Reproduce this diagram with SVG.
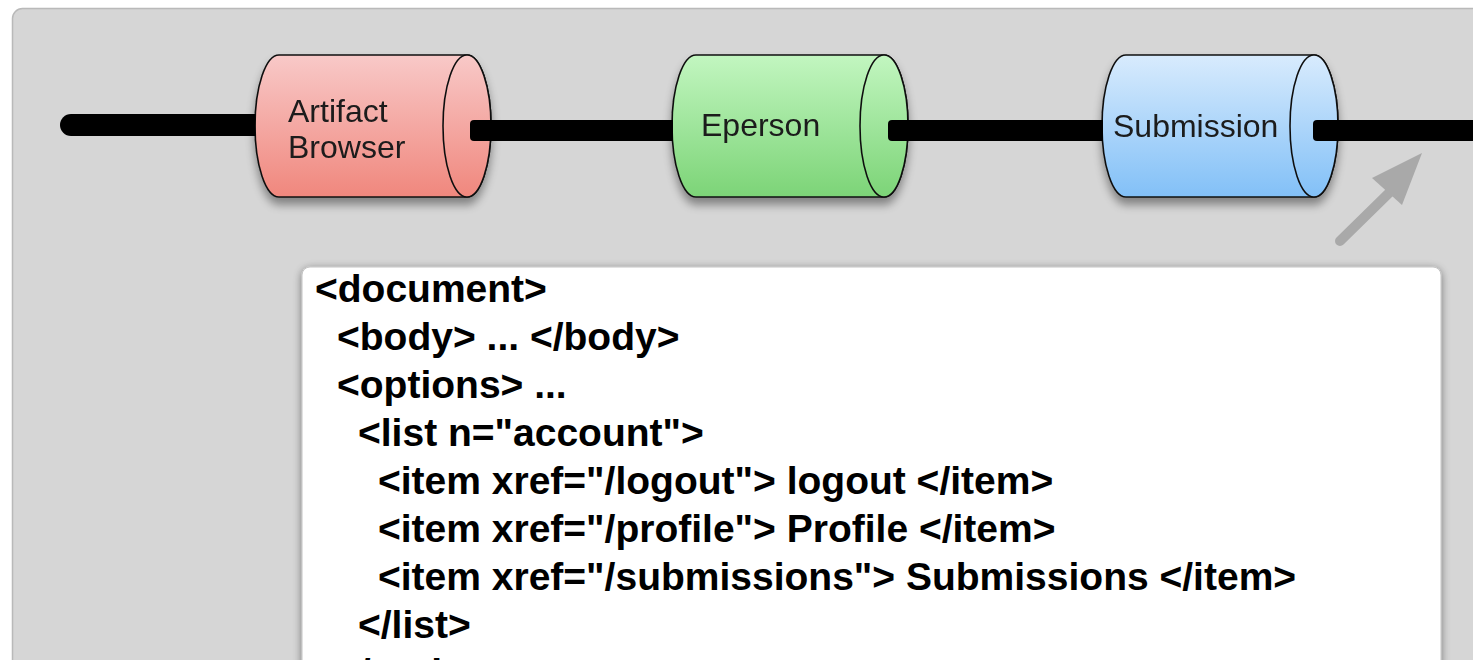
<svg xmlns="http://www.w3.org/2000/svg" width="1473" height="660" viewBox="0 0 1473 660">
  <defs>
    <style>
      .cyl-body { stroke: #111; stroke-width: 1.6; }
      .cyl-label { font-family: "Liberation Sans", Arial, sans-serif; font-size: 32px; fill: #1a1a1a; }
      .code { font-family: "Liberation Sans", Arial, sans-serif; font-size: 39px; font-weight: bold; fill: #000; }
      .wire { fill: #000; }
    </style>
    <linearGradient id="gRed" x1="0" y1="0" x2="0" y2="1">
      <stop offset="0" stop-color="#f8c9c8"/>
      <stop offset="1" stop-color="#f0877d"/>
    </linearGradient>
    <linearGradient id="gGreen" x1="0" y1="0" x2="0" y2="1">
      <stop offset="0" stop-color="#c2f6c0"/>
      <stop offset="1" stop-color="#7cd477"/>
    </linearGradient>
    <linearGradient id="gBlue" x1="0" y1="0" x2="0" y2="1">
      <stop offset="0" stop-color="#d8ebfd"/>
      <stop offset="1" stop-color="#82c0f7"/>
    </linearGradient>
    <filter id="shadow" x="-10%" y="-20%" width="120%" height="150%">
      <feGaussianBlur in="SourceAlpha" stdDeviation="5"/>
      <feOffset dx="0" dy="7" result="b"/>
      <feComponentTransfer><feFuncA type="linear" slope="0.4"/></feComponentTransfer>
      <feMerge><feMergeNode/><feMergeNode in="SourceGraphic"/></feMerge>
    </filter>
    <filter id="boxShadow" x="-5%" y="-10%" width="110%" height="130%">
      <feGaussianBlur in="SourceAlpha" stdDeviation="4"/>
      <feOffset dx="0" dy="2" result="b"/>
      <feComponentTransfer><feFuncA type="linear" slope="0.45"/></feComponentTransfer>
      <feMerge><feMergeNode/><feMergeNode in="SourceGraphic"/></feMerge>
    </filter>
  </defs>

  <rect x="0" y="0" width="1473" height="660" fill="#ffffff"/>
  <rect id="panel" x="12.5" y="8.5" width="1500" height="700" rx="10" fill="#d6d6d6" stroke="#b9b9b9" stroke-width="1.5"/>

  <g id="node-artifact-browser" filter="url(#shadow)">
    <path class="cyl-body" fill="url(#gRed)" d="M279,55 L467,55 A24,71 0 0 1 467,197 L279,197 A24,71 0 0 1 279,55 Z"/>
    <ellipse class="cyl-body" fill="url(#gRed)" cx="467" cy="126" rx="24" ry="71"/>
    <text class="cyl-label" x="288" y="122">Artifact</text>
    <text class="cyl-label" x="288" y="158">Browser</text>
  </g>

  <g id="node-eperson" filter="url(#shadow)">
    <path class="cyl-body" fill="url(#gGreen)" d="M696,55 L884,55 A24,71 0 0 1 884,197 L696,197 A24,71 0 0 1 696,55 Z"/>
    <ellipse class="cyl-body" fill="url(#gGreen)" cx="884" cy="126" rx="24" ry="71"/>
    <text class="cyl-label" x="701" y="136">Eperson</text>
  </g>

  <g id="node-submission" filter="url(#shadow)">
    <path class="cyl-body" fill="url(#gBlue)" d="M1126,55 L1314,55 A24,71 0 0 1 1314,197 L1126,197 A24,71 0 0 1 1126,55 Z"/>
    <ellipse class="cyl-body" fill="url(#gBlue)" cx="1314" cy="126" rx="24" ry="71"/>
    <text class="cyl-label" x="1113" y="137">Submission</text>
  </g>

  <g id="connectors">
    <path class="wire" d="M255.5,114 L71,114 A11,11 0 0 0 71,136 L255.5,136 Z"/>
    <path class="wire" d="M673,120 L474,120 Q470,120 470,124 L470,137 Q470,141 474,141 L673,141 Z"/>
    <path class="wire" d="M1103,120 L892,120 Q888,120 888,124 L888,137 Q888,141 892,141 L1103,141 Z"/>
    <path class="wire" d="M1480,120 L1317,120 Q1313,120 1313,124 L1313,137 Q1313,141 1317,141 L1480,141 Z"/>
  </g>

  <g id="pointer-arrow">
    <line x1="1340" y1="241" x2="1390" y2="192" stroke="#a9a9a9" stroke-width="10" stroke-linecap="round"/>
    <polygon points="1422,153 1372,178 1402,205" fill="#a9a9a9"/>
  </g>

  <g id="node-document">
    <rect x="302" y="267" width="1139" height="460" rx="8" fill="#ffffff" stroke="#c4c4c4" stroke-width="1" filter="url(#boxShadow)"/>
    <text class="code" x="315" y="302">&lt;document&gt;</text>
    <text class="code" x="337" y="350">&lt;body&gt; ... &lt;/body&gt;</text>
    <text class="code" x="337" y="398">&lt;options&gt; ...</text>
    <text class="code" x="358" y="446">&lt;list n="account"&gt;</text>
    <text class="code" x="378" y="494">&lt;item xref="/logout"&gt; logout &lt;/item&gt;</text>
    <text class="code" x="378" y="542">&lt;item xref="/profile"&gt; Profile &lt;/item&gt;</text>
    <text class="code" x="378" y="590">&lt;item xref="/submissions"&gt; Submissions &lt;/item&gt;</text>
    <text class="code" x="358" y="638">&lt;/list&gt;</text>
    <text class="code" x="337" y="686">&lt;/options&gt;</text>
  </g>
</svg>
